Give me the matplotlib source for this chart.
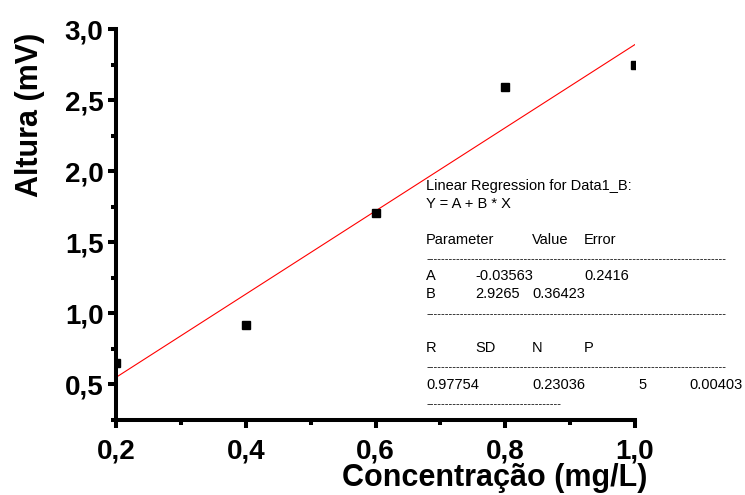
import matplotlib
matplotlib.use("Agg")
import matplotlib.pyplot as plt
import numpy as np

# pontos medidos
concentracao = [0.2, 0.4, 0.6, 0.8, 1.0]
altura = [0.648, 0.915, 1.704, 2.59, 2.746]

# parametros do ajuste linear
A = -0.03563
B = 2.9265

x_ticks = [0.2, 0.4, 0.6, 0.8, 1.0]
x_labels = ["0,2", "0,4", "0,6", "0,8", "1,0"]
y_ticks = [0.5, 1.0, 1.5, 2.0, 2.5, 3.0]
y_labels = ["0,5", "1,0", "1,5", "2,0", "2,5", "3,0"]

W, H = 745, 495
fig = plt.figure(figsize=(W / 100, H / 100), dpi=100)
ax = fig.add_axes([116 / W, 1 - 420 / H, (635 - 116) / W, (420 - 29) / H])

bold = dict(family="Liberation Sans", weight="bold")

x_fit = np.array([0.2, 1.0])
ax.plot(x_fit, A + B * x_fit, color="red", lw=0.8, zorder=2)
ax.plot(concentracao, altura, "s", color="black", ms=5.5, zorder=3)

ax.set_xlim(0.2, 1.0)
ax.set_ylim(0.25, 3.0)

for s in ["top", "right"]:
    ax.spines[s].set_visible(False)
for s in ["left", "bottom"]:
    ax.spines[s].set_linewidth(2.9)
    ax.spines[s].set_capstyle("projecting")

ax.set_xticks(x_ticks)
ax.set_xticklabels(x_labels, fontsize=20, **bold)
ax.set_yticks(y_ticks)
ax.set_yticklabels(y_labels, fontsize=20, **bold)
ax.set_xticks([0.3, 0.5, 0.7, 0.9], minor=True)
ax.set_yticks([0.25, 0.75, 1.25, 1.75, 2.25, 2.75], minor=True)
ax.tick_params(which="major", length=6, width=2.9, pad=3)
ax.tick_params(axis="x", which="major", pad=7)
ax.tick_params(which="minor", length=3.5, width=2.9)

ax.set_xlabel("Concentração (mg/L)", fontsize=22, va="baseline", **bold)
ax.xaxis.set_label_coords(0.73, -0.168)
ax.set_ylabel("Altura (mV)", fontsize=22, va="center", **bold)
ax.yaxis.set_label_coords(-0.166, 0.78)

# caixa de texto da regressao (coordenadas em pixels da figura)
def txt(x, y, s, size=10.5):
    fig.text(x / W, 1 - y / H, s, fontsize=size, family="Liberation Sans",
             va="baseline", ha="left")

dashes = "-" * 80
txt(426, 190, "Linear Regression for Data1_B:")
txt(426, 208, "Y = A + B * X")
txt(426, 244, "Parameter")
txt(532, 244, "Value")
txt(584, 244, "Error")
txt(426, 262, dashes, 8)
txt(426, 280, "A")
txt(475, 280, f"{A:.5f}")
txt(584, 280, "0.2416")
txt(426, 298, "B")
txt(475, 298, f"{B:.4f}")
txt(532, 298, "0.36423")
txt(426, 317, dashes, 8)
txt(426, 352, "R")
txt(475, 352, "SD")
txt(532, 352, "N")
txt(584, 352, "P")
txt(426, 370, dashes, 8)
txt(426, 389, "0.97754")
txt(532, 389, "0.23036")
txt(638, 389, "5")
txt(689, 389, "0.00403")
txt(426, 407, "-" * 36, 8)

fig.savefig("out.png", dpi=100)
